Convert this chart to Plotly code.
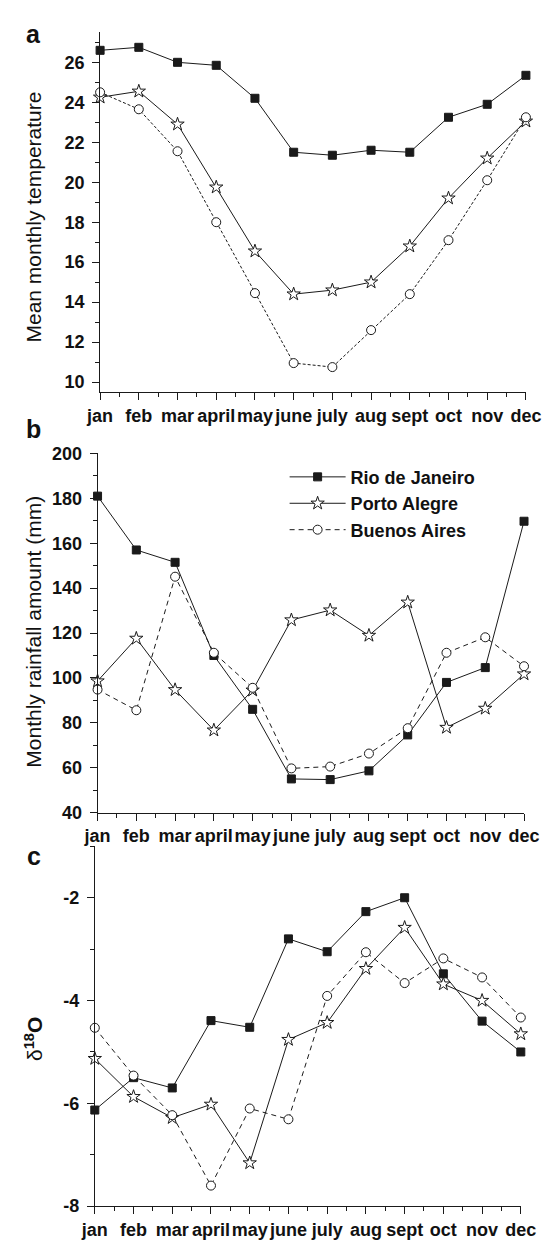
import plotly.graph_objects as go

W, H = 558, 1245

months = ["jan", "feb", "mar", "april", "may", "june", "july", "aug", "sept", "oct", "nov", "dec"]
cities = ["Rio de Janeiro", "Porto Alegre", "Buenos Aires"]

# a: mean monthly temperature
temp_rio = [26.6, 26.75, 26.0, 25.85, 24.2, 21.5, 21.35, 21.6, 21.5, 23.25, 23.9, 25.35]
temp_pa = [24.25, 24.55, 22.9, 19.75, 16.55, 14.4, 14.6, 15.0, 16.8, 19.2, 21.2, 23.05]
temp_ba = [24.5, 23.65, 21.55, 18.0, 14.45, 10.95, 10.75, 12.6, 14.4, 17.1, 20.1, 23.25]
temp_ticks = [10, 12, 14, 16, 18, 20, 22, 24, 26]

# b: monthly rainfall amount (mm)
rain_rio = [181, 157, 151.5, 110, 86, 55, 54.7, 58.6, 74.6, 98, 104.6, 169.8]
rain_pa = [98.6, 117.6, 94.7, 76.7, 94.5, 125.8, 130.2, 118.9, 133.7, 77.9, 86.4, 101.7]
rain_ba = [94.8, 85.6, 145.1, 111.2, 95.6, 59.7, 60.5, 66.3, 77.6, 111.2, 118.1, 105.2]
rain_ticks = [40, 60, 80, 100, 120, 140, 160, 180, 200]

# c: delta 18O
d18o_rio = [-6.13, -5.5, -5.7, -4.39, -4.52, -2.8, -3.05, -2.27, -2.0, -3.48, -4.4, -5.0]
d18o_pa = [-5.13, -5.87, -6.28, -6.02, -7.16, -4.76, -4.43, -3.38, -2.58, -3.68, -4.0, -4.65]
d18o_ba = [-4.53, -5.46, -6.23, -7.6, -6.10, -6.31, -3.91, -3.06, -3.66, -3.18, -3.55, -4.33]
d18o_ticks = [-8, -6, -4, -2]

xs = list(range(len(months)))

INK = "#1a1a1a"
FONT = "Liberation Sans, Arial, sans-serif"


def px(x):
    return x / W


def py(y):
    return 1 - y / H


styles = {
    "Rio de Janeiro": dict(symbol="square", size=8, color=INK, line=dict(color=INK, width=1)),
    "Porto Alegre": dict(symbol="star", size=10, color="white", line=dict(color=INK, width=1)),
    "Buenos Aires": dict(symbol="circle", size=9, color="white", line=dict(color=INK, width=1)),
}

fig = go.Figure()

panels = [
    ("", "y", [temp_rio, temp_pa, temp_ba], "3px,2px", False),
    ("2", "y2", [rain_rio, rain_pa, rain_ba], "5px,4px", True),
    ("3", "y3", [d18o_rio, d18o_pa, d18o_ba], "5px,4px", False),
]

for suffix, yref, series, badash, showleg in panels:
    for city, vals in zip(cities, series):
        dash = badash if city == "Buenos Aires" else "solid"
        fig.add_trace(go.Scatter(
            x=xs, y=vals, mode="lines+markers", name=city,
            xaxis="x" + suffix, yaxis=yref,
            line=dict(color=INK, width=1, dash=dash),
            marker=styles[city], cliponaxis=False,
            showlegend=showleg,
        ))

tickfont = dict(family=FONT, size=18, color="#111", weight="bold")


def xaxis(domain, anchor):
    return dict(
        domain=domain, anchor=anchor, range=[0, 11],
        tickmode="array", tickvals=xs, ticktext=months, tickangle=0,
        showline=True, linecolor=INK, linewidth=1, mirror=False,
        ticks="outside", ticklen=7, tickcolor=INK, tickwidth=1,
        minor=dict(ticks="outside", ticklen=4, tickcolor=INK, tickmode="linear", tick0=0, dtick=0.5, showgrid=False),
        showgrid=False, zeroline=False, tickfont=tickfont, fixedrange=True,
    )


def yaxis(domain, anchor, rng, tickvals, mdtick):
    return dict(
        domain=domain, anchor=anchor, range=rng,
        tickmode="array", tickvals=tickvals, ticktext=[str(v) for v in tickvals],
        showline=True, linecolor=INK, linewidth=1, mirror=False,
        ticks="outside", ticklen=7, tickcolor=INK, tickwidth=1,
        minor=dict(ticks="outside", ticklen=4, tickcolor=INK, tickmode="linear", tick0=tickvals[0], dtick=mdtick, showgrid=False),
        showgrid=False, zeroline=False, tickfont=tickfont, fixedrange=True,
        ticklabelstandoff=4,
    )


fig.update_layout(
    width=W, height=H,
    margin=dict(l=0, r=0, t=0, b=0),
    paper_bgcolor="white", plot_bgcolor="white",
    font=dict(family=FONT, color="#111"),
    xaxis=xaxis([px(91), px(541)], "y"),
    yaxis=yaxis([py(388.3), py(22.7)], "x", [9.5, 27.5], temp_ticks, 1),
    xaxis2=xaxis([px(88.3), px(539)], "y2"),
    yaxis2=yaxis([py(815.7), py(450.7)], "x2", [40, 200], rain_ticks, 10),
    xaxis3=xaxis([px(85.4), px(535.6)], "y3"),
    yaxis3=yaxis([py(1215.7), py(850)], "x3", [-8, -1], d18o_ticks, 1),
    legend=dict(
        x=px(286), y=py(456), xanchor="left", yanchor="top",
        bgcolor="rgba(0,0,0,0)", borderwidth=0,
        font=dict(family=FONT, size=18, color="#111", weight="bold"),
        tracegroupgap=0, itemwidth=56,
    ),
    showlegend=True,
)

title_font = dict(family=FONT, size=21, color="#111")
annotations = [
    dict(text="a", x=px(21), y=py(24), font=dict(family=FONT, size=25, color="#111", weight="bold")),
    dict(text="b", x=px(21), y=py(426), font=dict(family=FONT, size=25, color="#111", weight="bold")),
    dict(text="c", x=px(21), y=py(860), font=dict(family=FONT, size=25, color="#111", weight="bold")),
    dict(text="Mean monthly temperature", x=px(21), y=py(210), textangle=-90, font=title_font),
    dict(text="Monthly rainfall amount (mm)", x=px(21), y=py(632), textangle=-90, font=title_font),
    dict(text="δ<b><sup>18</sup>O</b>", x=px(21), y=py(1046), textangle=-90, font=title_font),
]
for a in annotations:
    a.update(xref="paper", yref="paper", xanchor="center", yanchor="middle", showarrow=False)
fig.update_layout(annotations=annotations)

fig.write_html("out.html")
